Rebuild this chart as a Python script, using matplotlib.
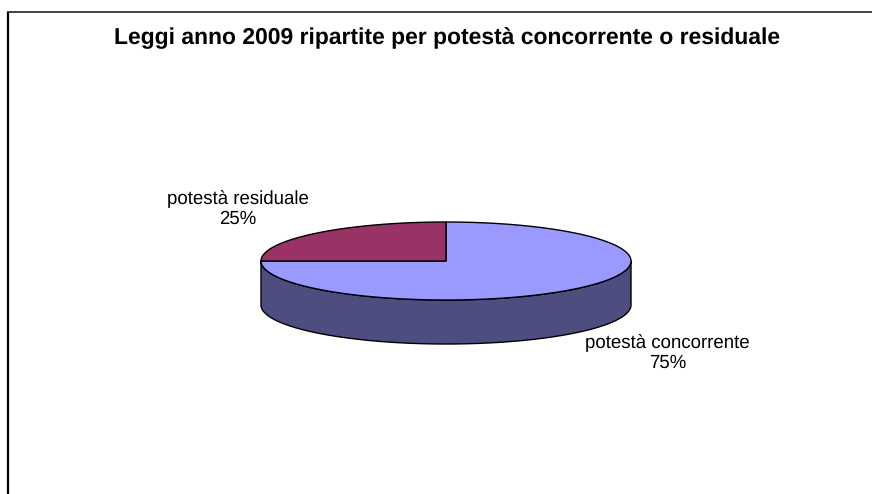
import numpy as np
import matplotlib
matplotlib.use("Agg")
import matplotlib.pyplot as plt
from matplotlib.patches import Polygon

plt.rcParams['font.family'] = ['Liberation Sans', 'DejaVu Sans']
plt.rcParams['text.hinting'] = 'no_hinting'

title = "Leggi anno 2009 ripartite per potestà concorrente o residuale"
categories = ["potestà concorrente", "potestà residuale"]
values = [75, 25]
colors = ["#9999FF", "#993366"]
side_colors = ["#4D4D80", "#4D1A33"]

W, H = 872, 494
fig = plt.figure(figsize=(W / 100, H / 100), dpi=100)
ax = fig.add_axes([0, 0, 1, 1])
ax.set_xlim(0, W)
ax.set_ylim(H, 0)
ax.axis("off")

# outer frame, cut by the bottom and right edges of the picture
ax.plot([8, 8], [H + 5, 12], color="black", lw=1.6, solid_capstyle="butt")
ax.plot([7, W + 5], [12, 12], color="#222222", lw=1.2, solid_capstyle="butt")

cx, cy, rx, ry, depth = 446, 261, 185, 39, 44


def pt(t):
    return cx + rx * np.sin(t), cy - ry * np.cos(t)


total = sum(values)
start = 0.0
wedges = []
for v, c, s in zip(values, colors, side_colors):
    end = start + 2 * np.pi * v / total
    wedges.append((start, end, c, s))
    start = end

# side wall: visible for the front half of the rim
for a, b, c, s in wedges:
    lo, hi = max(a, np.pi / 2), min(b, 3 * np.pi / 2)
    if lo < hi:
        t = np.linspace(lo, hi, 200)
        x, y = pt(t)
        xy = np.r_[np.c_[x, y], np.c_[x, y + depth][::-1]]
        ax.add_patch(Polygon(xy, closed=True, fc=s, ec="black", lw=1.0, joinstyle="round"))

# top face
for a, b, c, s in wedges:
    t = np.linspace(a, b, 300)
    x, y = pt(t)
    xy = np.r_[[[cx, cy]], np.c_[x, y]]
    ax.add_patch(Polygon(xy, closed=True, fc=c, ec="black", lw=1.0, joinstyle="round"))

ax.text(447, 38.5, title, ha="center", va="center", fontsize=16.45, fontweight="bold", color="black")
ax.text(667.5, 353, f"{categories[0]}\n{values[0]}%", ha="center", va="center",
        fontsize=13.4, color="black", linespacing=1.12)
ax.text(238, 209, f"{categories[1]}\n{values[1]}%", ha="center", va="center",
        fontsize=13.4, color="black", linespacing=1.12)

fig.savefig("out.png", dpi=100, facecolor="white")
